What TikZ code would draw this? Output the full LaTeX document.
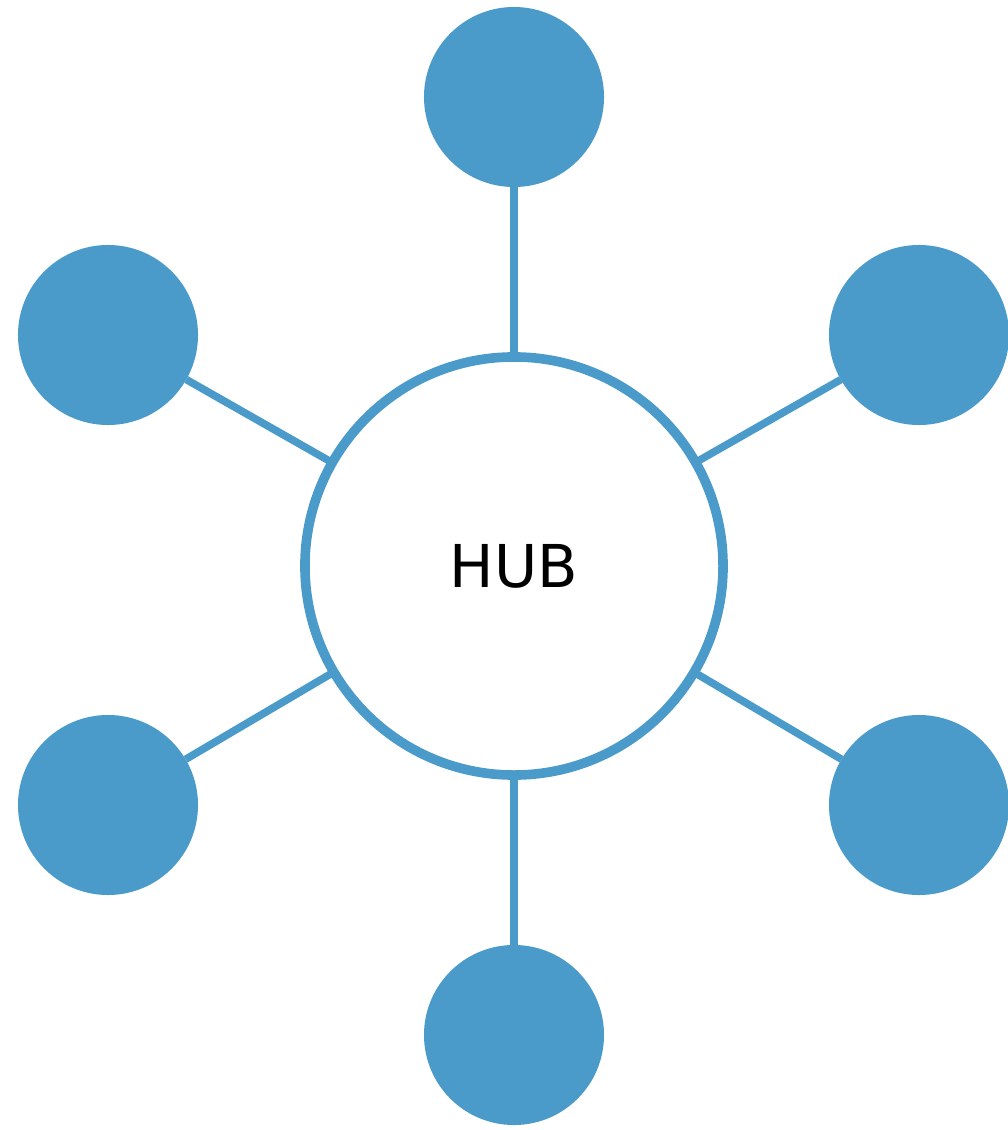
\documentclass[tikz,border=0pt]{standalone}
\usepackage{fontspec}
\setmainfont{DejaVu Sans}
\definecolor{hubblue}{RGB}{74,155,202}
\begin{document}
\begin{tikzpicture}[x=0.025cm,y=-0.025cm,
  sat/.style={circle,fill=hubblue,minimum size=4.5cm,inner sep=0pt,outer sep=0pt},
  hubnode/.style={circle,draw=hubblue,line width=0.24cm,fill=white,minimum size=10.45cm,inner sep=0pt,outer sep=0pt,font=\fontsize{42}{50}\selectfont},
  link/.style={draw=hubblue,line width=0.19cm}]
\useasboundingbox (0,0) rectangle (1007,1130);
\node[sat] (s1) at (514,97) {};
\node[sat] (s2) at (919,335) {};
\node[sat] (s3) at (919,805) {};
\node[sat] (s4) at (514,1035) {};
\node[sat] (s5) at (108,805) {};
\node[sat] (s6) at (108,335) {};
\node[hubnode] (hub) at (514,566) {\raisebox{-2pt}{HUB}};
\foreach \s in {s1,s2,s3,s4,s5,s6}
  \path[link] (hub) -- (\s);
\end{tikzpicture}
\end{document}
